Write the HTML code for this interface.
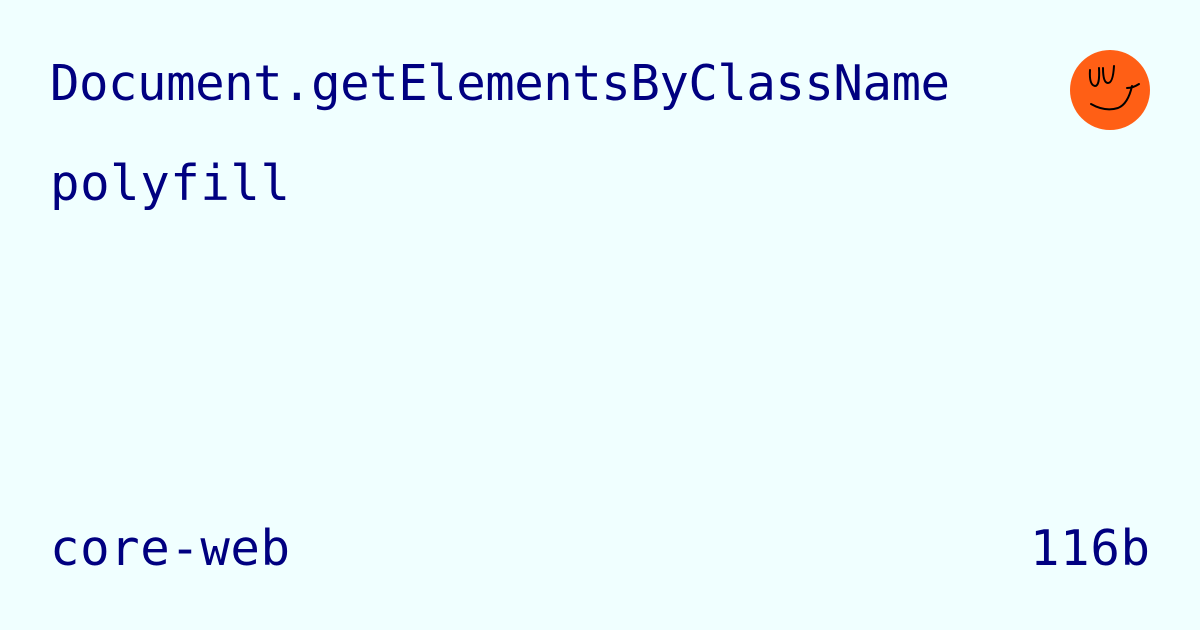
<!DOCTYPE html>
<html><head><style>
html,body{margin:0;padding:0;background:#f0ffff;}
svg{display:block}
text{font-family:"DejaVu Sans Mono","Liberation Mono",monospace;fill:#000080;font-size:49px;}
</style></head><body>
<svg width="1200" height="630" viewBox="0 0 1200 630">
<rect width="1200" height="630" fill="#f0ffff"/>
<text x="50" y="100" textLength="900" lengthAdjust="spacing">Document.getElementsByClassName</text>
<text x="50" y="200" textLength="240" lengthAdjust="spacing">polyfill</text>
<text x="50" y="565" textLength="240" lengthAdjust="spacing">core-web</text>
<text x="1030" y="565" textLength="120" lengthAdjust="spacing">116b</text>
<circle cx="1110" cy="90" r="40" fill="#ff5f15"/>
<g fill="none" stroke="#000" stroke-width="2" stroke-linecap="round">
<path d="M1090 70 Q1089 85 1095 86 Q1100 86 1099 68"/>
<path d="M1103 68 Q1103 83 1108 83 Q1113 83 1114 66"/>
<path d="M1091 104 Q1105 112 1118 108 Q1128 104 1132 86"/>
<path d="M1127 88 Q1133 88 1139 84"/>
</g>
</svg>
</body></html>
